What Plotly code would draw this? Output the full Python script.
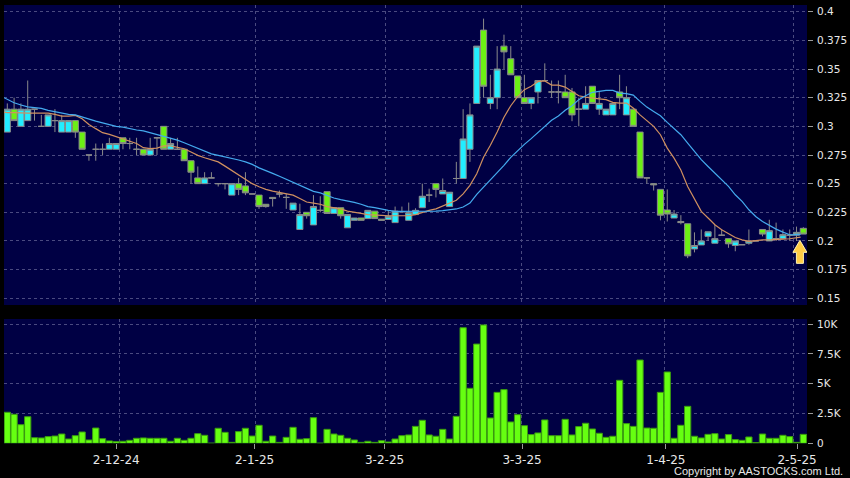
import plotly.graph_objects as go

opens = [.295,.315,.30,.305,.315,.30,.30,.305,.295,.295,.305,.295,.275,.28,.28,.28,.28,.29,.285,.28,
 .28,.275,.29,.30,.28,.28,.28,.27,.255,.25,.255,.25,.25,.24,.25,.248,.241,.24,.232,.238,
 .241,.238,.227,.21,.225,.214,.2267,.243,.224,.229,.2115,.218,.22,.2195,.226,.219,.2187,.216,.2255,.218,
 .223,.229,.24,.25,.241,.23,.2545,.2545,.28,.32,.384,.32,.325,.37,.359,.344,.325,.32,.33,.34,
 .33,.33,.33,.33,.315,.315,.335,.315,.31,.31,.33,.31,.315,.295,.255,.25,.245,.227,.22,.217,
 .215,.193,.1965,.204,.198,.205,.202,.196,.1967,.198,.20,.21,.20,.202,.202,.205,.205,.211]
highs = [.32,.325,.32,.34,.315,.31,.31,.315,.31,.305,.305,.295,.275,.285,.285,.29,.285,.29,.29,.29,
 .28,.29,.29,.30,.29,.29,.28,.27,.265,.26,.26,.25,.25,.25,.255,.26,.241,.24,.232,.238,
 .244,.241,.233,.2325,.225,.24,.239,.243,.229,.229,.223,.22,.22,.2267,.226,.219,.227,.23,.23,.2335,
 .2285,.25,.2456,.25,.2545,.2425,.269,.315,.32,.37,.394,.345,.37,.38,.37,.344,.345,.325,.34,.355,
 .34,.34,.345,.3335,.325,.335,.335,.33,.315,.32,.345,.335,.315,.295,.255,.25,.245,.245,.227,.2225,
 .215,.2075,.21,.208,.214,.21,.202,.20,.1967,.21,.20,.21,.2185,.216,.21,.21,.2125,.212]
lows = [.295,.305,.30,.305,.305,.30,.30,.295,.295,.295,.29,.28,.27,.27,.275,.28,.28,.28,.28,.275,
 .275,.275,.275,.28,.28,.28,.27,.25,.25,.25,.255,.2475,.245,.24,.24,.24,.241,.228,.229,.23,
 .238,.228,.227,.21,.2195,.214,.225,.224,.224,.2195,.2115,.218,.218,.2195,.2195,.218,.2187,.216,.2255,.218,
 .223,.229,.234,.238,.241,.23,.25,.2545,.269,.32,.325,.315,.315,.35,.345,.325,.32,.315,.32,.34,
 .325,.32,.325,.3045,.30,.315,.32,.31,.31,.31,.315,.31,.30,.255,.25,.244,.218,.217,.22,.2145,
 .185,.19,.1965,.20,.198,.205,.194,.191,.1967,.1967,.20,.204,.20,.20,.202,.20,.20,.206]
closes = [.315,.305,.315,.315,.315,.30,.31,.305,.305,.305,.295,.28,.275,.28,.28,.285,.285,.285,.285,.28,
 .275,.28,.29,.28,.285,.28,.27,.26,.25,.255,.255,.25,.25,.25,.245,.242,.241,.23,.23,.237,
 .241,.238,.233,.223,.222,.23,.2267,.224,.229,.222,.223,.22,.218,.2267,.2195,.218,.2215,.226,.2255,.2247,
 .2267,.239,.24,.245,.244,.2425,.2545,.289,.31,.37,.335,.325,.35,.365,.345,.325,.32,.325,.34,.34,
 .33,.33,.325,.31,.315,.32,.32,.32,.315,.32,.325,.325,.30,.255,.255,.249,.2225,.2235,.2235,.216,
 .187,.196,.20,.208,.202,.205,.1975,.20,.1967,.20,.20,.206,.209,.202,.2055,.205,.2075,.206]
ma_short = [.3125,.312,.312,.3115,.3115,.3115,.3115,.3115,.3105,.309,.309,.3095,.3067,.3017,.298,.2945,.293,.291,.2886,.287,.285,
 .2814,.2805,.281,.283,.283,.282,.2805,.2776,.2747,.2726,.271,.269,.2653,.2616,.258,.2537,.25,.2473,.245,.2435,
 .2425,.241,.24,.237,.234,.233,.232,.23,.229,.228,.226,.2247,.224,.223,.2224,.2224,.222,.222,.222,.222,
 .223,.225,.2267,.228,.2305,.233,.2355,.241,.2485,.2587,.273,.2835,.295,.308,.318,.326,.332,.335,.339,.3396,
 .336,.336,.3343,.3305,.3267,.3255,.325,.324,.3233,.321,.3203,.3203,.316,.31,.305,.30,.2927,.281,.2723,.262,
 .2475,.236,.2258,.22,.2141,.2098,.2063,.203,.201,.1996,.2002,.201,.201,.2016,.2016,.2019,.2025,.2033]
ma_long = [.325,.3235,.3206,.3186,.317,.3163,.3157,.314,.3128,.3113,.3105,.31,.308,.306,.3046,.303,.3017,.30,.2994,.298,.2968,
 .296,.2944,.293,.2915,.2895,.288,.2857,.2834,.2805,.2784,.276,.2747,.2735,.272,.2706,.269,.2668,.2638,.2616,.259,
 .2564,.2538,.2509,.2485,.2456,.2433,.2419,.2395,.2375,.236,.235,.2337,.232,.23,.229,.2276,.2267,.2258,.2258,.2256,
 .2256,.2256,.2258,.226,.2264,.227,.2279,.2296,.233,.2407,.247,.253,.2593,.266,.273,.279,.2843,.2893,.2945,.2995,
 .3053,.309,.314,.318,.3233,.3267,.3297,.3305,.3314,.3314,.329,.3285,.3273,.3218,.3168,.313,.3093,.3035,.2977,.2927,
 .2854,.2782,.2709,.265,.2592,.2534,.2476,.2403,.2345,.2272,.2214,.217,.2133,.2103,.2077,.2054,.2054,.2058]
volume = [2.6,2.43,1.56,2.23,.47,.45,.56,.61,.78,.36,.64,.95,.28,1.28,.39,.2,.14,.17,.25,.42,
 .45,.42,.42,.42,.17,.42,.25,.42,.81,.67,.01,1.26,.92,.08,.98,1.26,.61,1.51,.17,.61,
 .08,.5,1.34,.34,.39,2.15,.01,1.17,.78,.67,.42,.28,.08,.17,.08,.22,.11,.36,.64,.7,
 1.42,1.93,.7,.59,1.17,.36,2.26,9.69,4.61,8.32,9.92,2.12,4.27,4.5,1.79,2.4,1.48,.73,.87,1.96,
 .64,.64,2.01,.7,1.4,1.68,1.2,.84,.5,.59,5.28,1.65,1.42,6.98,1.28,1.26,4.27,5.98,.42,1.51,
 3.1,.59,.45,.75,.81,.36,.73,.31,.25,.53,.06,.78,.42,.42,.67,.56,.08,.75]

for s in (opens, highs, lows, closes, volume):
    assert len(s) == 118, len(s)

sessions = list(range(118))
# The averages are read from just left of the first session to just left of the last one.
ma_sessions = [-0.48] + sessions[:117] + [116.6]
assert len(ma_short) == len(ma_long) == len(ma_sessions), (len(ma_short), len(ma_long), len(ma_sessions))
month_labels = ["2-12-24", "2-1-25", "3-2-25", "3-3-25", "1-4-25", "2-5-25"]
month_ticks = [16.02, 36.34, 55.45, 75.66, 96.8, 116.08]
month_grid = [16.49, 36.48, 55.6, 75.6, 96.6, 115.6]
price_ticks = [0.4, 0.375, 0.35, 0.325, 0.3, 0.275, 0.25, 0.225, 0.2, 0.175, 0.15]
price_labels = ["0.4", "0.375", "0.35", "0.325", "0.3", "0.275", "0.25", "0.225", "0.2", "0.175", "0.15"]
vol_ticks = [0, 2.5, 5, 7.5, 10]
vol_labels = ["0", "2.5K", "5K", "7.5K", "10K"]

W, H = 850, 478
GRID = "#4a4a80"
TEXT = "#e8e8e8"
FONT = dict(family="DejaVu Sans", size=10.5, color=TEXT)
XFONT = dict(family="DejaVu Sans", size=12, color=TEXT)
DASH = "3px,3px"

fig = go.Figure()
fig.add_trace(go.Candlestick(
    x=sessions, open=opens, high=highs, low=lows, close=closes,
    increasing=dict(line=dict(color="#8a8a8a", width=1), fillcolor="#22eeff"),
    decreasing=dict(line=dict(color="#8a8a8a", width=1), fillcolor="#6cf014"),
    xaxis="x", yaxis="y", showlegend=False, whiskerwidth=0))
fig.add_trace(go.Scatter(x=ma_sessions, y=ma_short, mode="lines", line=dict(color="#d09060", width=1.2),
                         xaxis="x", yaxis="y", showlegend=False))
fig.add_trace(go.Scatter(x=ma_sessions, y=ma_long, mode="lines", line=dict(color="#44aaee", width=1.2),
                         xaxis="x", yaxis="y", showlegend=False))
fig.add_trace(go.Bar(x=sessions, y=volume, marker=dict(color="#66ff11", line=dict(color="#3a9a10", width=1)),
                     width=0.92, xaxis="x2", yaxis="y2", showlegend=False))

x_range = [-0.485, 117.54]
minor_grid = dict(tickmode="array", tickvals=month_grid, showgrid=True, gridcolor=GRID, griddash=DASH,
                  gridwidth=1, ticks="")
common_x = dict(range=x_range, domain=[4 / W, 807 / W], showline=False, zeroline=False, showgrid=False,
                minor=minor_grid, tickmode="array", tickvals=month_ticks)

fig.update_layout(
    width=W, height=H, margin=dict(l=0, r=0, t=0, b=0, autoexpand=False),
    paper_bgcolor="#000000", plot_bgcolor="#000044",
    font=FONT, boxgap=0.1, boxgroupgap=0, bargap=0.08,
    xaxis=dict(common_x, anchor="y", ticktext=[""] * 6, ticks="", rangeslider=dict(visible=False)),
    xaxis2=dict(common_x, anchor="y2", ticktext=month_labels, ticks="outside", ticklen=5, tickcolor="#999999",
                tickfont=XFONT, ticklabelstandoff=0),
    yaxis=dict(domain=[1 - 305 / H, 1 - 5 / H], range=[0.1441, 0.4059], side="right", anchor="x",
               tickmode="array", tickvals=price_ticks, ticktext=price_labels, ticks="outside", ticklen=5,
               tickcolor="#999999", tickfont=FONT, showgrid=True, gridcolor=GRID, griddash=DASH,
               zeroline=False, showline=False, ticklabelstandoff=2),
    yaxis2=dict(domain=[1 - 443.3 / H, 1 - 319 / H], range=[0, 10.42], side="right", anchor="x2",
                tickmode="array", tickvals=vol_ticks, ticktext=vol_labels, ticks="outside", ticklen=5,
                tickcolor="#999999", tickfont=FONT, showgrid=True, gridcolor=GRID, griddash=DASH,
                zeroline=False, showline=False, ticklabelstandoff=2),
    annotations=[dict(text="Copyright by AASTOCKS.com Ltd.", xref="paper", yref="paper",
                      x=845 / W, y=1 - 471 / H, xanchor="right", yanchor="middle", showarrow=False,
                      font=dict(family="Liberation Sans", size=11, color=TEXT))],
    shapes=[dict(type="path", xref="x", yref="y", xsizemode="pixel", ysizemode="pixel",
                 xanchor=116.5, yanchor=closes[116],
                 path="M 0 -8 L 7 -20 L 3.5 -20 L 3.5 -31 L -3.5 -31 L -3.5 -20 L -7 -20 Z",
                 fillcolor="#ffcc44", line=dict(color="#fff2b0", width=1))],
)

fig.write_html("out.html", config=dict(displayModeBar=False),
               post_script="document.body.style.margin='0';document.body.style.background='#000';document.body.style.overflow='hidden';")
